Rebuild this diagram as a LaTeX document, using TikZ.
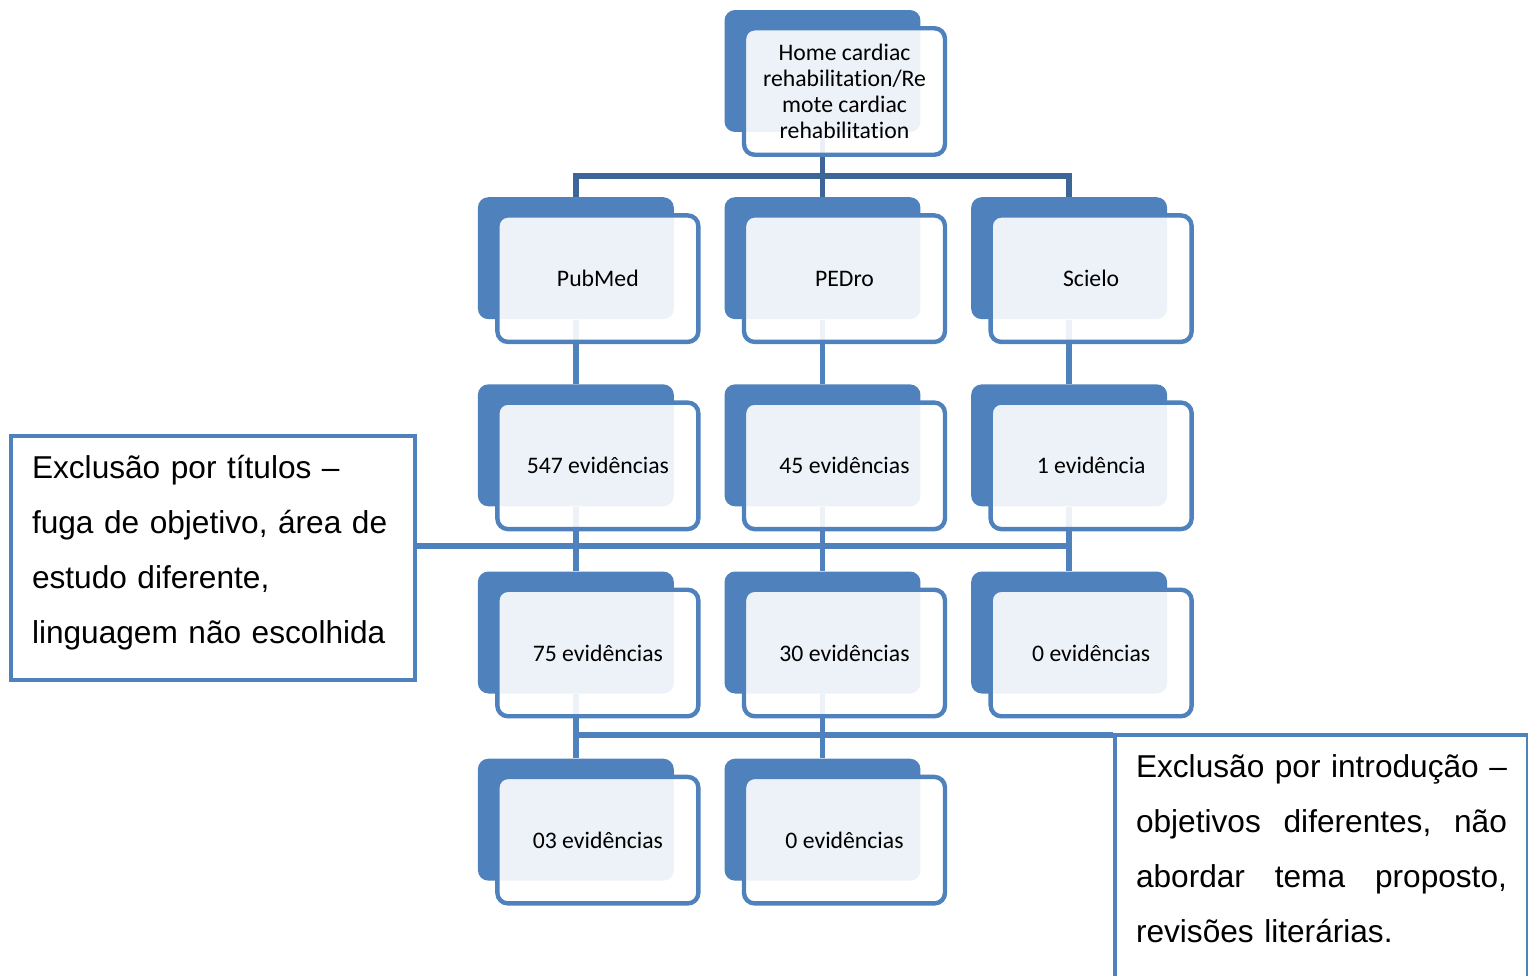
\documentclass[tikz,border=0pt]{standalone}
\usepackage{fontspec}
\setmainfont{Carlito}[Ligatures=NoCommon]
\newfontfamily\arialfont{Liberation Sans}
\usetikzlibrary{positioning,backgrounds}
\definecolor{boxblue}{RGB}{79,129,189}
\definecolor{barblue}{RGB}{62,101,151}

\begin{document}
\begin{tikzpicture}[x=0.02cm,y=-0.02cm,node distance=1.29cm and 1cm,
	shade/.style={rectangle,rounded corners=6pt,fill=boxblue,minimum width=3.92cm,minimum height=2.44cm,inner sep=0pt},
	card/.style={rectangle,rounded corners=6pt,draw=boxblue,line width=2.5pt,fill=white,fill opacity=0.9,text opacity=1,
		minimum width=4.02cm,minimum height=2.53cm,inner sep=2pt,align=center,font=\fontsize{13.5}{14.8}\selectfont},
	link/.style={draw=boxblue,line width=3.1pt},
	toplink/.style={draw=barblue,line width=3.1pt},
	callout/.style={rectangle,draw=boxblue,line width=2.3pt,fill=white,inner xsep=0.42cm,inner ysep=0pt,
		minimum height=4.88cm,align=left,font=\arialfont\fontsize{18}{31.3}\selectfont}]
	\useasboundingbox (0,0) rectangle (1528,975);
	\clip (0,0) rectangle (1528,975);

	% search term
	\node[shade] (tops) at (822.5,71) {};
	\node[card] (top) at ([shift={(22,20.5)}]tops.center) {Home cardiac\\rehabilitation/Re\\mote cardiac\\rehabilitation};

	% databases
	\node[shade] (ped1s) [below=of tops] {};
	\node[shade] (pub1s) [left=of ped1s] {};
	\node[shade] (sci1s) [right=of ped1s] {};
	\node[card] (pub1) at ([shift={(22,20.5)}]pub1s.center) {PubMed};
	\node[card] (ped1) at ([shift={(22,20.5)}]ped1s.center) {PEDro};
	\node[card] (sci1) at ([shift={(22,20.5)}]sci1s.center) {Scielo};

	% found
	\node[shade] (pub2s) [below=of pub1s] {};
	\node[shade] (ped2s) [below=of ped1s] {};
	\node[shade] (sci2s) [below=of sci1s] {};
	\node[card] (pub2) at ([shift={(22,20.5)}]pub2s.center) {547 evidências};
	\node[card] (ped2) at ([shift={(22,20.5)}]ped2s.center) {45 evidências};
	\node[card] (sci2) at ([shift={(22,20.5)}]sci2s.center) {1 evidência};

	% after titles
	\node[shade] (pub3s) [below=of pub2s] {};
	\node[shade] (ped3s) [below=of ped2s] {};
	\node[shade] (sci3s) [below=of sci2s] {};
	\node[card] (pub3) at ([shift={(22,20.5)}]pub3s.center) {75 evidências};
	\node[card] (ped3) at ([shift={(22,20.5)}]ped3s.center) {30 evidências};
	\node[card] (sci3) at ([shift={(22,20.5)}]sci3s.center) {0 evidências};

	% after introduction
	\node[shade] (pub4s) [below=of pub3s] {};
	\node[shade] (ped4s) [below=of ped3s] {};
	\node[card] (pub4) at ([shift={(22,20.5)}]pub4s.center) {03 evidências};
	\node[card] (ped4) at ([shift={(22,20.5)}]ped4s.center) {0 evidências};

	% exclusion notes
	\node[callout,anchor=north west,text width=7.24cm] (exTit) at (9,434)
		{Exclusão por títulos –\\fuga de objetivo, área de\\estudo diferente,\\linguagem não escolhida\rule[-0.33cm]{0pt}{0pt}};
	\node[callout,anchor=north west,text width=7.42cm] (exInt) at (1113,733)
		{\makebox[7.42cm][l]{Exclusão\hfill por\hfill introdução\hfill –}\\
		 \makebox[7.42cm][l]{objetivos\hfill diferentes,\hfill não}\\
		 \makebox[7.42cm][l]{abordar\hfill tema\hfill proposto,}\\
		 revisões literárias.\rule[-0.33cm]{0pt}{0pt}};

	\coordinate (bar1) at (0,176);
	\coordinate (bar2) at (0,546);
	\coordinate (bar3) at (0,735);
	\begin{pgfonlayer}{background}
		\draw[toplink] (tops) -- (ped1s);
		\draw[toplink] (pub1s) -- (pub1s |- bar1) -- (sci1s |- bar1) -- (sci1s);
		\draw[link] (pub1s) -- (pub2s);
		\draw[link] (ped1s) -- (ped2s);
		\draw[link] (sci1s) -- (sci2s);
		\draw[link] (pub2s) -- (pub3s);
		\draw[link] (ped2s) -- (ped3s);
		\draw[link] (sci2s) -- (sci3s);
		\draw[link] (exTit.east |- bar2) -- (sci2s |- bar2);
		\draw[link] (pub3s) -- (pub4s);
		\draw[link] (ped3s) -- (ped4s);
		\draw[link] (pub3s |- bar3) -- (exInt.west |- bar3);
	\end{pgfonlayer}
\end{tikzpicture}
\end{document}
